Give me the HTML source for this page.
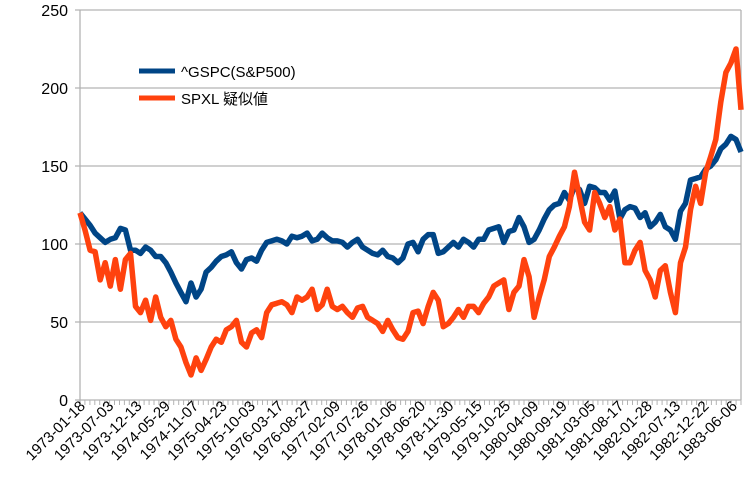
<!DOCTYPE html>
<html><head><meta charset="utf-8"><style>
body{margin:0;background:#fff;}
svg{display:block;font-family:"Liberation Sans","Noto Sans CJK JP",sans-serif;}
</style></head><body>
<svg id="chart" width="756" height="504" viewBox="0 0 756 504" xmlns="http://www.w3.org/2000/svg">
<g id="grid"></g>
<g id="axes"></g>
<g id="series"></g>
<g>
<line x1="139" y1="71" x2="175" y2="71" stroke="#004586" stroke-width="5"/>
<text x="181" y="77" font-size="15" fill="#000">^GSPC(S&amp;P500)</text>
<line x1="139" y1="98" x2="175" y2="98" stroke="#ff420e" stroke-width="5"/>
<text x="181" y="104" font-size="15" fill="#000">SPXL 疑似値</text>
</g>
</svg>
<script>
const xLabels=["1973-01-18","1973-07-03","1973-12-13","1974-05-29","1974-11-07","1975-04-23","1975-10-03","1976-03-17","1976-08-27","1977-02-09","1977-07-26","1978-01-06","1978-06-20","1978-11-30","1979-05-15","1979-10-25","1980-04-09","1980-09-19","1981-03-05","1981-08-17","1982-01-28","1982-07-13","1982-12-22","1983-06-06"];
const yTicks=[0,50,100,150,200,250];
const gspc=[120,116,112,107,104,101,103,104,110,109,96,96,94,98,96,92,92,88,82,75,69,63,75,66,71,82,85,89,92,93,95,88,84,90,91,89,96,101,102,103,102,100,105,104,105,107,102,103,107,104,102,102,101,98,101,103,98,96,94,93,96,92,91,88,91,100,101,95,103,106,106,94,95,98,101,98,103,101,98,103,103,109,110,111,101,108,109,117,111,101,103,109,116,122,125,126,133,128,137,135,126,137,136,133,133,128,134,116,122,124,123,117,120,111,114,119,111,109,103,121,126,141,142,143,148,150,154,161,164,169,167,159];
const spxl=[120,109,96,95,77,88,73,90,71,90,94,60,56,64,51,66,53,47,51,39,34,24,16,27,19,26,34,39,37,45,47,51,37,34,43,45,40,56,61,62,63,61,56,66,64,66,71,58,61,71,60,58,60,56,53,59,60,53,51,49,44,51,45,40,39,44,56,57,49,60,69,64,47,49,53,58,53,60,60,56,62,66,73,75,77,58,69,73,90,79,53,66,77,92,98,105,111,124,146,130,114,109,133,126,117,124,109,116,88,88,96,101,83,77,66,83,86,69,56,88,98,122,137,126,146,156,167,191,210,216,225,186];
const NS="http://www.w3.org/2000/svg";
const L=80,R=741,T=10,B=400,YMAX=250;
const n=gspc.length;
function xs(i){return L+(R-L)*i/(n-1);}
function ys(v){return B-(B-T)*v/YMAX;}
function mk(tag,attrs,parent){const e=document.createElementNS(NS,tag);for(const k in attrs)e.setAttribute(k,attrs[k]);parent.appendChild(e);return e;}
const grid=document.getElementById('grid'),axes=document.getElementById('axes'),series=document.getElementById('series');
yTicks.forEach(v=>{
  const g=mk('line',{x1:L-5,x2:R,y1:ys(v),y2:ys(v),stroke:'#b3b3b3','stroke-width':1.3},grid);
  
  
  const t=mk('text',{x:L-12,y:ys(v)+6,'text-anchor':'end','font-size':16,fill:'#000'},axes);
  t.textContent=v;
  
  
});
const ya=mk('line',{x1:L,x2:L,y1:T,y2:B+5,stroke:'#b3b3b3','stroke-width':1.3},axes);


const ra=mk('line',{x1:R,x2:R,y1:T,y2:B,stroke:'#b3b3b3','stroke-width':1.3},axes);


let d='';
for(let x=L;x<=R+0.1;x+=(R-L)/134){d+='M'+x.toFixed(1)+' '+B+'V'+(B+5);}
const tk=mk('path',{d:d,stroke:'#b3b3b3','stroke-width':1},axes);


const span=(738-86)/(xLabels.length-1);
xLabels.forEach((s,i)=>{
  const x=86+span*i,y=407;
  const t=mk('text',{x:x,y:y,'text-anchor':'end','font-size':15,fill:'#000',transform:'rotate(-45 '+x+' '+y+')'},axes);
  t.textContent=s;
  
  
});
function line(arr,color,name){
  const p=arr.map((v,i)=>(i?'L':'M')+xs(i).toFixed(1)+' '+ys(v).toFixed(1)).join('');
  const e=mk('path',{d:p,fill:'none',stroke:color,'stroke-width':5.5,'stroke-linejoin':'round'},series);
  
  
}
line(gspc,'#004586','gspc-line');
line(spxl,'#ff420e','spxl-line');
</script>
</body></html>
